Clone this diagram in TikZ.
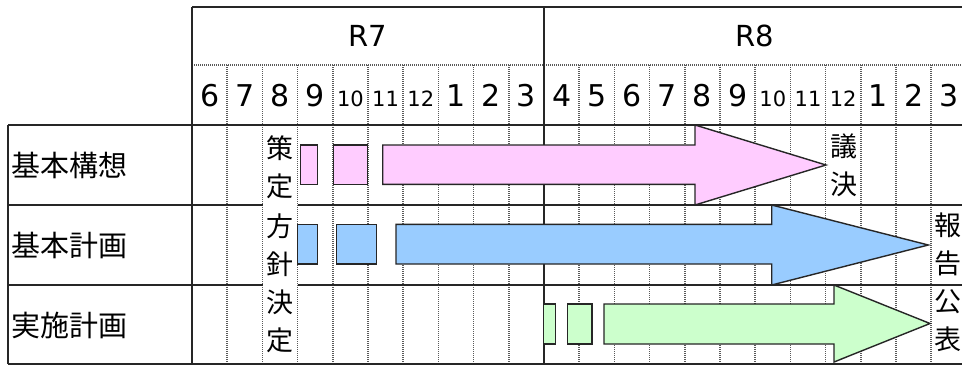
\documentclass[tikz,border=0pt]{standalone}
\usepackage{fontspec}
\setmainfont{DejaVu Sans}
\newfontfamily\jp{Noto Sans CJK JP}
\definecolor{pinkf}{HTML}{FFCCFF}
\definecolor{bluef}{HTML}{99CCFF}
\definecolor{greenf}{HTML}{CCFFCC}
\tikzset{
  solidline/.style={black!85, line width=1.7pt},
  dotline/.style={black!65, line width=1.7pt, dash pattern=on 1.2pt off 0.8pt},
  bar/.style={draw=black!85, line width=1.4pt, line join=miter},
  bigm/.style={inner sep=0pt, anchor=base, font=\fontsize{30}{30}\selectfont},
  smallm/.style={inner sep=0pt, anchor=base, font=\fontsize{21}{21}\selectfont},
  yearlab/.style={inner sep=0pt, anchor=base, font=\fontsize{29}{29}\selectfont},
  rowlab/.style={inner sep=0pt, anchor=west, font=\jp\fontsize{29}{29}\selectfont},
  vlab/.style={inner sep=0pt, align=center, font=\jp\fontsize{27}{38}\selectfont},
}
\begin{document}
\begin{tikzpicture}[x=1pt,y=-1pt]
\useasboundingbox (0,0) rectangle (962,365);
\clip (0,0) rectangle (962,365);
\fill[white] (0,0) rectangle (962,365);
% dotted grid
\draw[dotline] (192,65) -- (970,65);
\foreach \i in {1,...,9,11,12,...,21} {
  \draw[dotline] ({192+35.2*\i},65) -- ({192+35.2*\i},364);
}
% solid lines
\draw[solidline] (192,7) -- (970,7);
\draw[solidline] (8,125) -- (970,125);
\draw[solidline] (8,205) -- (262.6,205) (297.6,205) -- (970,205);
\draw[solidline] (8,285) -- (262.6,285) (297.6,285) -- (970,285);
\draw[solidline] (8,364) -- (970,364);
\draw[solidline] (8,125) -- (8,364);
\draw[solidline] (192,7) -- (192,364);
\draw[solidline] (544,7) -- (544,364);
% year labels
\node[yearlab] (r7) at (368,46.5) {R7};
\node[yearlab] (r8) at (755,46.5) {R8};
% month labels
\foreach \m [count=\k from 0] in {6,7,8,9,10,11,12,1,2,3,4,5,6,7,8,9,10,11,12,1,2,3} {
  \ifnum\m>9
    \node[smallm] (m\k) at ({192+35.2*\k+17.6},106.5) {\m};
  \else
    \node[bigm] (m\k) at ({192+35.2*\k+17.6},106.5) {\m};
  \fi
}
% row labels
\node[rowlab] (l1) at (11,165) {基本構想};
\node[rowlab] (l2) at (11,245) {基本計画};
\node[rowlab] (l3) at (11,325) {実施計画};
% vertical labels
\node[vlab] (v1) at (280.2,167) {策\\定};
\node[vlab] (v2) at (280.2,245) {方\\針};
\node[vlab] (v3) at (280.2,321) {決\\定};
\node[vlab] (v4) at (844.2,165) {議\\決};
\node[vlab] (v5) at (948,244) {報\\告};
\node[vlab] (v6) at (948,321) {公\\表};
% pink
\draw[bar, fill=pinkf] (300.7,145) rectangle (317.3,184.3);
\draw[bar, fill=pinkf] (333.3,145) rectangle (367.3,184.3);
\draw[bar, fill=pinkf] (382.7,145) -- (695,145) -- (695,125) -- (826,165) -- (695,205) -- (695,184.3) -- (382.7,184.3) -- cycle;
% blue
\draw[bar, fill=bluef] (297.3,224.3) rectangle (317.3,264);
\draw[bar, fill=bluef] (336.7,224.3) rectangle (376.7,264);
\draw[bar, fill=bluef] (396,224.3) -- (771.7,224.3) -- (771.7,205) -- (928.3,245) -- (771.7,285) -- (771.7,264) -- (396,264) -- cycle;
% green
\draw[bar, fill=greenf] (543.3,304) rectangle (555.7,344);
\draw[bar, fill=greenf] (567.3,304) rectangle (592,344);
\draw[bar, fill=greenf] (604,304) -- (834,304) -- (834,285) -- (930,323.5) -- (834,362) -- (834,344) -- (604,344) -- cycle;
\end{tikzpicture}
\end{document}
